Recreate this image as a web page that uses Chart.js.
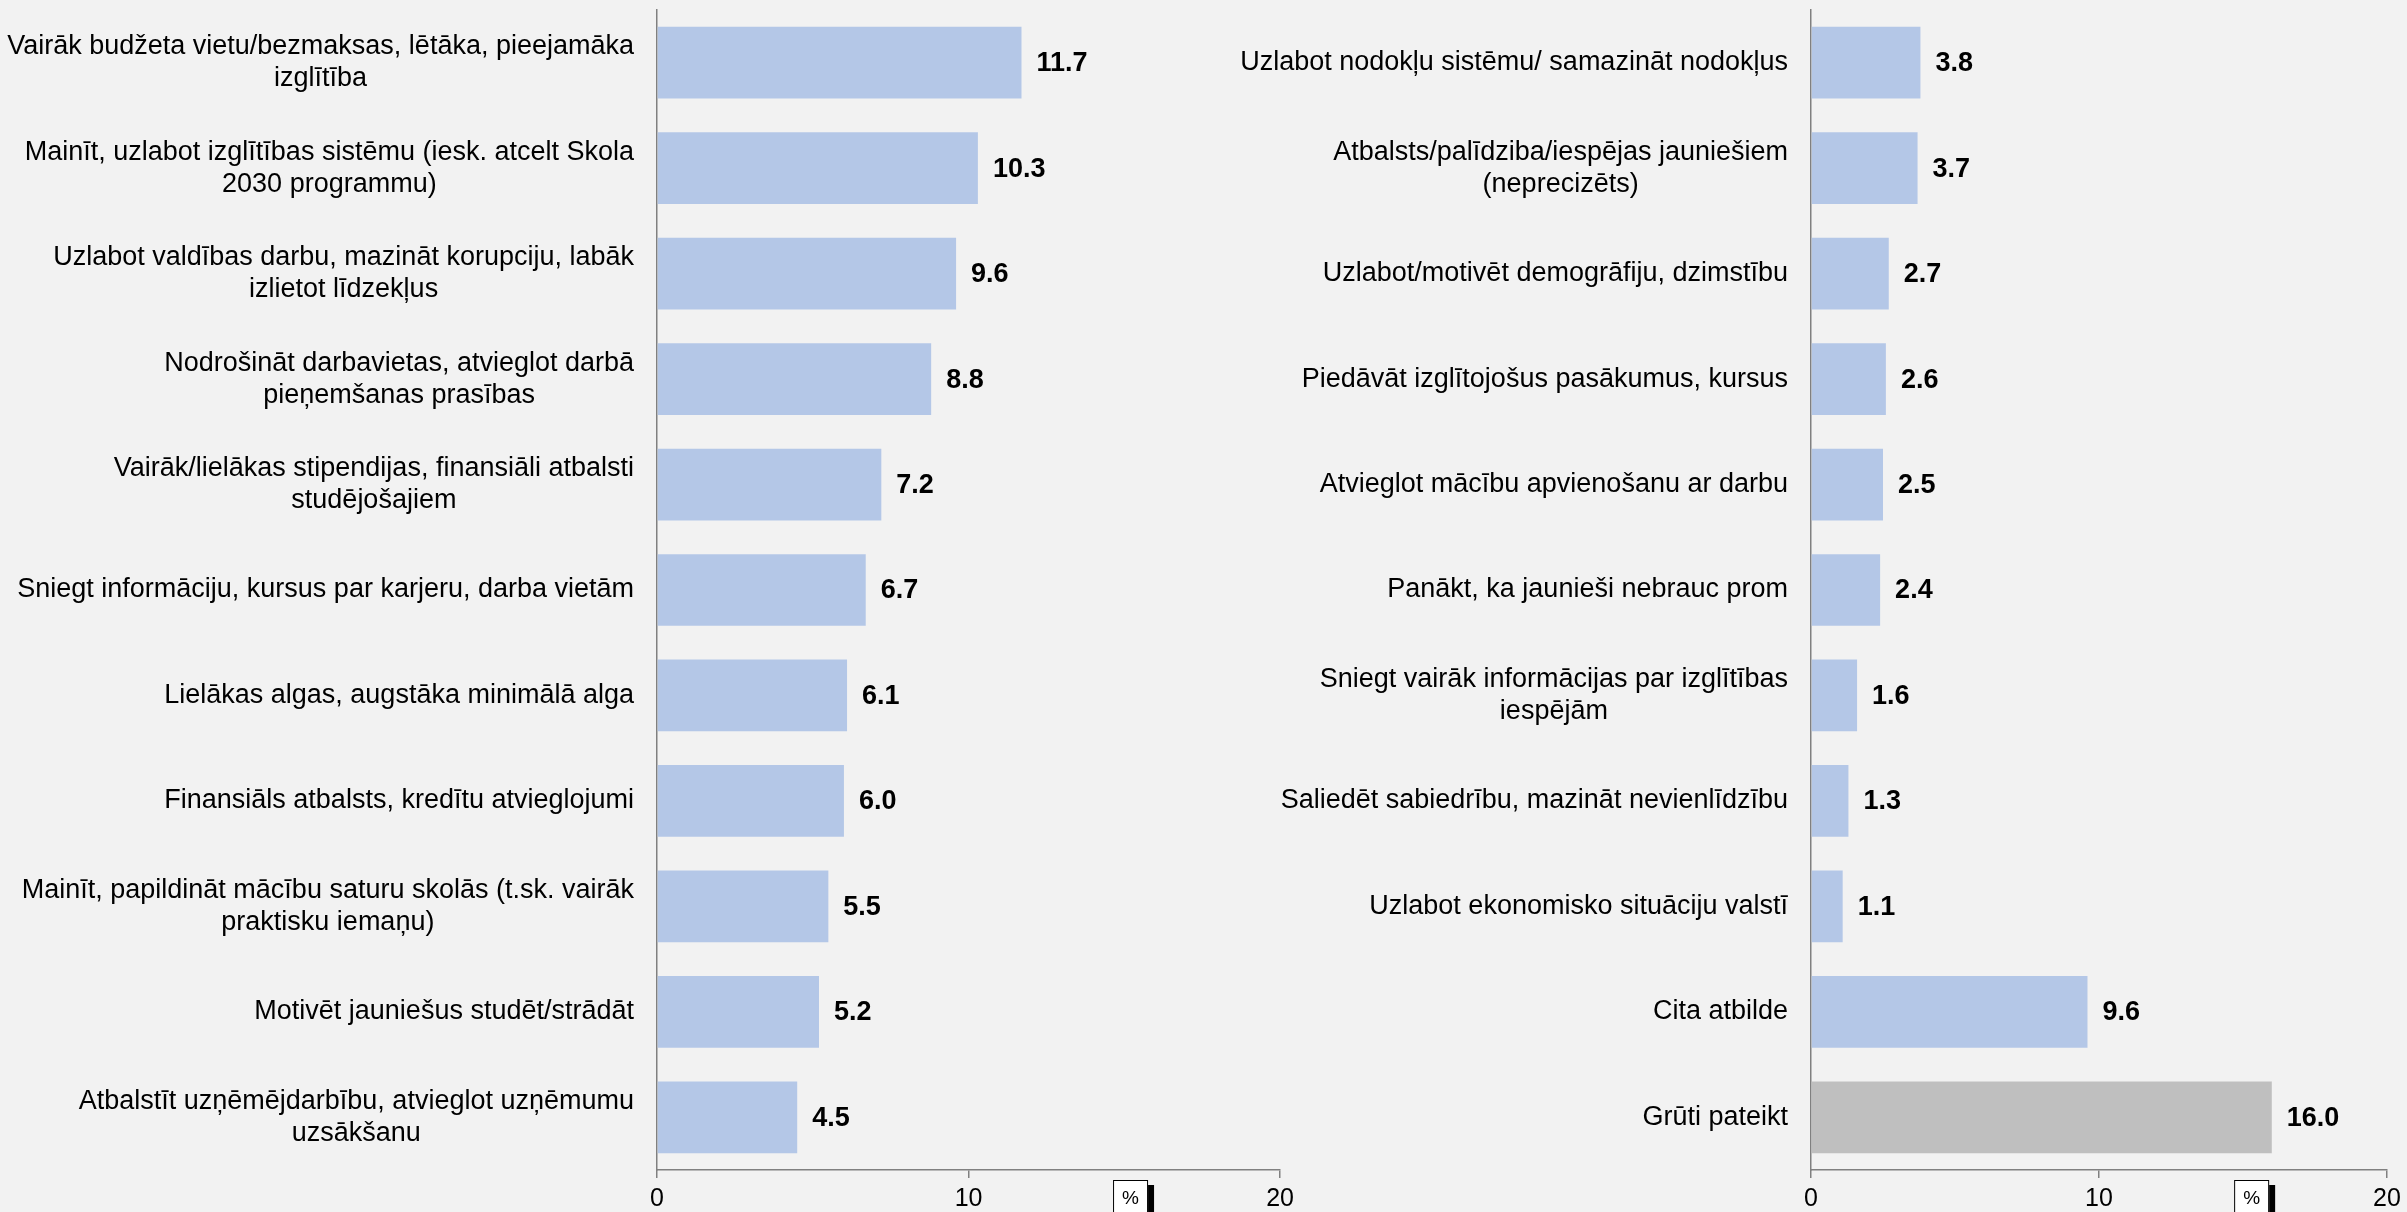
<!DOCTYPE html>
<html>
<head>
<meta charset="utf-8">
<script src="https://cdn.jsdelivr.net/npm/chart.js@4.4.0/dist/chart.umd.min.js"></script>
<style>
  html, body { margin: 0; padding: 0; background: #f2f2f2; }
  body { width: 2407px; height: 1212px; position: relative; overflow: hidden; }
  .wrap { position: absolute; top: 0; height: 1212px; }
  #leftWrap { left: 0; width: 1300px; }
  #rightWrap { left: 1240px; width: 1167px; }
</style>
</head>
<body>
<div class="wrap" id="leftWrap"><canvas id="leftChart"></canvas></div>
<div class="wrap" id="rightWrap"><canvas id="rightChart"></canvas></div>
<script>
// answers, left column
const leftLabels = [
    ["Vairāk budžeta vietu/bezmaksas, lētāka, pieejamāka", "izglītība"],
    ["Mainīt, uzlabot izglītības sistēmu (iesk. atcelt Skola", "2030 programmu)"],
    ["Uzlabot valdības darbu, mazināt korupciju, labāk", "izlietot līdzekļus"],
    ["Nodrošināt darbavietas, atvieglot darbā", "pieņemšanas prasības"],
    ["Vairāk/lielākas stipendijas, finansiāli atbalsti", "studējošajiem"],
    ["Sniegt informāciju, kursus par karjeru, darba vietām"],
    ["Lielākas algas, augstāka minimālā alga"],
    ["Finansiāls atbalsts, kredītu atvieglojumi"],
    ["Mainīt, papildināt mācību saturu skolās (t.sk. vairāk", "praktisku iemaņu)"],
    ["Motivēt jauniešus studēt/strādāt"],
    ["Atbalstīt uzņēmējdarbību, atvieglot uzņēmumu", "uzsākšanu"]
];
const leftValues = [11.7, 10.3, 9.6, 8.8, 7.2, 6.7, 6.1, 6.0, 5.5, 5.2, 4.5];

// answers, right column
const rightLabels = [
    ["Uzlabot nodokļu sistēmu/ samazināt nodokļus"],
    ["Atbalsts/palīdziba/iespējas jauniešiem", "(neprecizēts)"],
    ["Uzlabot/motivēt demogrāfiju, dzimstību"],
    ["Piedāvāt izglītojošus pasākumus, kursus"],
    ["Atvieglot mācību apvienošanu ar darbu"],
    ["Panākt, ka jaunieši nebrauc prom"],
    ["Sniegt vairāk informācijas par izglītības", "iespējām"],
    ["Saliedēt sabiedrību, mazināt nevienlīdzību"],
    ["Uzlabot ekonomisko situāciju valstī"],
    ["Cita atbilde"],
    ["Grūti pateikt"]
];
const rightValues = [3.8, 3.7, 2.7, 2.6, 2.5, 2.4, 1.6, 1.3, 1.1, 9.6, 16.0];

const xMin = 0;
const xMax = 20;
const xStep = 10;
const unitLabel = "%";

const BLUE = "#b4c7e7";
const GREY = "#bfbfbf";
const AXIS = "#808080";
const FONT = "'Liberation Sans', Arial, sans-serif";

// category names, drawn right-aligned as a block with lines centred to each other
const categoryText = {
    id: "categoryText",
    afterDraw(chart) {
        const ctx = chart.ctx;
        const y = chart.scales.y;
        const right = y.right - 23;
        const lineH = 32;
        ctx.save();
        ctx.font = "27px " + FONT;
        ctx.fillStyle = "#000";
        ctx.textAlign = "center";
        ctx.textBaseline = "middle";
        chart.data.labels.forEach((lines, i) => {
            const w = Math.max(...lines.map(l => ctx.measureText(l).width));
            const cx = right - w / 2;
            const cy = y.getPixelForValue(i);
            lines.forEach((l, k) => {
                ctx.fillText(l, cx, cy + (k - (lines.length - 1) / 2) * lineH);
            });
        });
        ctx.restore();
    }
};

// value next to the end of each bar
const valueText = {
    id: "valueText",
    afterDatasetsDraw(chart) {
        const ctx = chart.ctx;
        const ds = chart.data.datasets[0];
        ctx.save();
        ctx.font = "bold 27px " + FONT;
        ctx.fillStyle = "#000";
        ctx.textAlign = "left";
        ctx.textBaseline = "middle";
        chart.getDatasetMeta(0).data.forEach((bar, i) => {
            ctx.fillText(ds.data[i].toFixed(1), bar.x + 15, bar.y + 1);
        });
        ctx.restore();
    }
};

// small boxed unit label under the axis
const unitBox = {
    id: "unitBox",
    afterDraw(chart, args, opts) {
        const ctx = chart.ctx;
        const cx = chart.scales.x.getPixelForValue(opts.at);
        const top = chart.chartArea.bottom + 10;
        const w = 35, h = 44;
        ctx.save();
        ctx.fillStyle = "#000";
        ctx.fillRect(cx - w / 2 + 6, top + 5, w, h);
        ctx.fillStyle = "#fff";
        ctx.fillRect(cx - w / 2, top, w, h);
        ctx.strokeStyle = "#000";
        ctx.lineWidth = 1;
        ctx.strokeRect(cx - w / 2 + 0.5, top + 0.5, w - 1, h);
        ctx.font = "19px " + FONT;
        ctx.fillStyle = "#000";
        ctx.textAlign = "center";
        ctx.textBaseline = "middle";
        ctx.fillText(unitLabel, cx, top + 19);
        ctx.restore();
    }
};

function makeChart(id, labels, values, colors, axisWidth, padRight, unitAt) {
    const ctx = document.getElementById(id).getContext("2d");
    return new Chart(ctx, {
        type: "bar",
        data: {
            labels: labels,
            datasets: [{
                data: values,
                backgroundColor: colors,
                barPercentage: 0.68,
                categoryPercentage: 1.0
            }]
        },
        options: {
            indexAxis: "y",
            responsive: true,
            maintainAspectRatio: false,
            animation: false,
            layout: { padding: { top: 10, right: padRight, left: 0, bottom: 0 } },
            plugins: {
                legend: { display: false },
                tooltip: { enabled: false },
                unitBox: { at: unitAt }
            },
            scales: {
                x: {
                    min: xMin,
                    max: xMax,
                    ticks: {
                        stepSize: xStep,
                        color: "#000",
                        font: { family: FONT, size: 25 },
                        padding: 6,
                        maxRotation: 0
                    },
                    grid: {
                        drawOnChartArea: false,
                        drawTicks: true,
                        tickLength: 8,
                        color: AXIS,
                        lineWidth: 1.5
                    },
                    border: { display: true, color: AXIS, width: 1.5 },
                    afterFit: s => { s.height = 42; }
                },
                y: {
                    ticks: { display: false },
                    grid: { display: false },
                    border: { display: true, color: AXIS, width: 1.5 },
                    afterFit: s => { s.width = axisWidth; }
                }
            }
        },
        plugins: [categoryText, valueText, unitBox]
    });
}

const leftColors = leftValues.map(() => BLUE);
const rightColors = rightValues.map((v, i) => i === rightValues.length - 1 ? GREY : BLUE);

makeChart("leftChart", leftLabels, leftValues, leftColors, 657, 18, 15.2);
makeChart("rightChart", rightLabels, rightValues, rightColors, 571, 20, 15.3);
</script>
</body>
</html>
